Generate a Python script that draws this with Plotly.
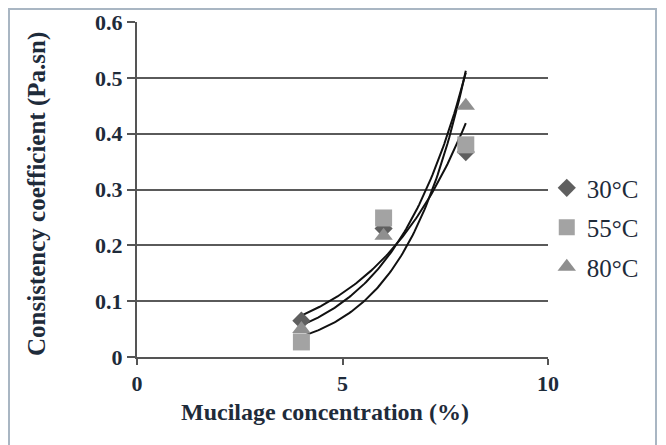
import numpy as np
import plotly.graph_objects as go

concentration = [4, 6, 8]
k_30 = [0.065, 0.23, 0.367]
k_55 = [0.027, 0.249, 0.38]
k_80 = [0.05, 0.217, 0.45]
series_names = ["30°C", "55°C", "80°C"]
x_ticks = [0, 5, 10]
y_ticks = [0, 0.1, 0.2, 0.3, 0.4, 0.5, 0.6]

symbols = ["diamond", "square", "triangle-up"]
colors = ["#5f5f5f", "#a3a3a3", "#8f8f8f"]
sizes = [14, 17, 16]

fig = go.Figure()

# exponential trendlines (Excel-style fit y = a*exp(b*x))
xs = np.linspace(min(concentration), max(concentration), 100)
for vals in (k_30, k_55, k_80):
    b, lna = np.polyfit(concentration, np.log(vals), 1)
    fig.add_trace(go.Scatter(x=xs, y=np.exp(lna + b * xs), mode="lines",
                             line=dict(color="#111111", width=2),
                             showlegend=False, hoverinfo="skip"))

for i, vals in enumerate((k_30, k_55, k_80)):
    fig.add_trace(go.Scatter(x=concentration, y=vals, mode="markers",
                             name=series_names[i], legendgroup=series_names[i],
                             marker=dict(symbol=symbols[i], color=colors[i], size=sizes[i],
                                         line=dict(width=0))))

font_c = "#1e2b3a"
# page body has an 8px margin, so the figure is 658x437 drawn from (8,8)
L, T, PW, PH = 129, 14, 411, 335
W, H = 658, 437
fig.update_layout(
    width=W, height=H,
    margin=dict(l=L, r=W - L - PW, t=T, b=H - T - PH),
    paper_bgcolor="white", plot_bgcolor="white",
    font=dict(family="Liberation Serif", color=font_c),
    showlegend=True,
    legend=dict(x=0.997, xanchor="left", y=0.573, yanchor="top",
                font=dict(size=25, family="Liberation Serif", color=font_c),
                traceorder="grouped", tracegroupgap=4, itemwidth=30,
                bgcolor="rgba(0,0,0,0)"),
    xaxis=dict(range=[0, 10], tickvals=x_ticks, ticktext=["<b>%d</b>" % v for v in x_ticks],
               automargin=False,
               showgrid=False, zeroline=False, showline=True, linecolor="#555555", linewidth=2,
               ticks="outside", ticklen=6, tickcolor="#555555", tickwidth=2,
               tickfont=dict(size=22, family="Liberation Serif", color=font_c)),
    yaxis=dict(range=[0, 0.6], tickvals=y_ticks,
               ticktext=["<b>0</b>"] + ["<b>%.1f</b>" % v for v in y_ticks[1:]],
               automargin=False,
               showgrid=True, gridcolor="#5a5a5a", gridwidth=2,
               zeroline=False, showline=True, linecolor="#555555", linewidth=2,
               ticks="outside", ticklen=8, tickcolor="#555555", tickwidth=2,
               tickfont=dict(size=22, family="Liberation Serif", color=font_c)),
)

# axis titles
fig.add_annotation(text="<b>Mucilage concentration (%)</b>", xref="paper", yref="paper",
                   x=(317 - L) / PW, y=(T + PH - 404) / PH, xanchor="center", yanchor="middle",
                   showarrow=False, font=dict(size=24, family="Liberation Serif", color=font_c))
fig.add_annotation(text="<b>Consistency coefficient (Pa.sn)</b>", xref="paper", yref="paper",
                   x=(29 - L) / PW, y=(T + PH - 186) / PH, xanchor="center", yanchor="middle",
                   textangle=-90, showarrow=False,
                   font=dict(size=25, family="Liberation Serif", color=font_c))

# figure border
fig.add_shape(type="rect", xref="paper", yref="paper",
              x0=(1 - L) / PW, x1=(648 - L) / PW,
              y0=(T + PH - 450) / PH, y1=(T + PH - 1) / PH,
              line=dict(color="#a9b6c3", width=2), fillcolor="rgba(0,0,0,0)", layer="below")

fig.write_html("out.html")
